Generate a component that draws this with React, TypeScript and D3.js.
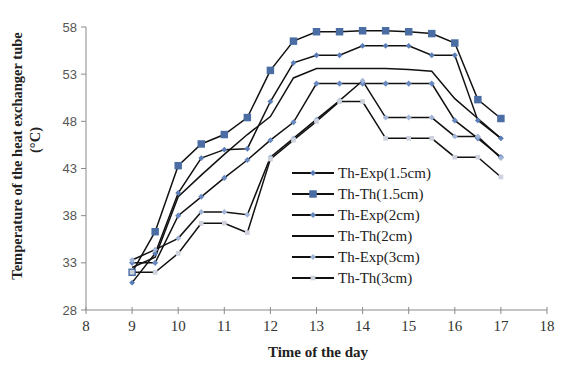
import React from "react";
import * as d3 from "d3";

const width = 561;
const height = 365;

const hours = [9, 9.5, 10, 10.5, 11, 11.5, 12, 12.5, 13, 13.5, 14, 14.5, 15, 15.5, 16, 16.5, 17];

const thExp15 = [30.9, 34.0, 40.4, 44.1, 45.0, 45.1, 50.1, 54.2, 55.0, 55.0, 56.0, 56.0, 56.0, 55.0, 55.0, 48.1, 46.2];
const thTh15 = [32.0, 36.3, 43.3, 45.6, 46.6, 48.4, 53.4, 56.5, 57.5, 57.5, 57.6, 57.6, 57.5, 57.3, 56.3, 50.3, 48.3];
const thExp2 = [33.0, 33.0, 38.0, 40.0, 42.0, 43.9, 46.0, 47.9, 52.0, 52.0, 52.0, 52.0, 52.0, 52.0, 48.1, 46.2, 44.2];
const thTh2 = [32.5, 33.6, 40.0, 42.3, 44.5, 46.6, 48.5, 52.6, 53.6, 53.6, 53.6, 53.6, 53.5, 53.3, 50.4, 48.3, 46.2];
const thExp3 = [33.3, 34.4, 35.6, 38.4, 38.4, 38.1, 44.2, 46.2, 48.2, 50.2, 52.3, 48.4, 48.4, 48.4, 46.4, 46.4, 44.1];
const thTh3 = [32.0, 32.0, 34.0, 37.2, 37.2, 36.2, 44.0, 46.0, 48.0, 50.1, 50.1, 46.2, 46.2, 46.2, 44.2, 44.2, 42.1];

const xTicks = [8, 9, 10, 11, 12, 13, 14, 15, 16, 17, 18];
const yTicks = [28, 33, 38, 43, 48, 53, 58];

const series = [
  { name: "Th-Exp(1.5cm)", values: thExp15, symbol: d3.symbolDiamond2, size: 22, color: "#5a7db6" },
  { name: "Th-Th(1.5cm)", values: thTh15, symbol: d3.symbolSquare, size: 56, color: "#4a6da4" },
  { name: "Th-Exp(2cm)", values: thExp2, symbol: d3.symbolDiamond2, size: 24, color: "#6889bf" },
  { name: "Th-Th(2cm)", values: thTh2, symbol: null, size: 0, color: "#1a2a4a" },
  { name: "Th-Exp(3cm)", values: thExp3, symbol: d3.symbolDiamond2, size: 22, color: "#a3b6d8" },
  { name: "Th-Th(3cm)", values: thTh3, symbol: d3.symbolSquare, size: 22, color: "#cdd2dd" },
];

export default function App() {
  const x = d3.scaleLinear().domain([8, 18]).range([86, 547]);
  const y = d3.scaleLinear().domain([28, 58]).range([310, 27]);

  const line = d3
    .line<number>()
    .x((_, i) => x(hours[i]))
    .y((d) => y(d));

  return (
    <svg
      width={width}
      height={height}
      style={{ position: "absolute", left: 0, top: 0, background: "#fff" }}
    >
      {/* axes */}
      <line x1={x(8)} x2={x(8)} y1={y(28)} y2={y(58)} stroke="#8a8a8a" />
      <line x1={x(8)} x2={x(18)} y1={y(28)} y2={y(28)} stroke="#8a8a8a" />
      {yTicks.map((t) => (
        <g key={t}>
          <line x1={x(8) - 5} x2={x(8)} y1={y(t)} y2={y(t)} stroke="#8a8a8a" />
          <text
            x={x(8) - 9}
            y={y(t)}
            dy="0.35em"
            textAnchor="end"
            fontFamily="Liberation Sans, Arial, sans-serif"
            fontSize={13}
            fill="#555"
          >
            {t}
          </text>
        </g>
      ))}
      {xTicks.map((t) => (
        <g key={t}>
          <line x1={x(t)} x2={x(t)} y1={y(28) - 3} y2={y(28) + 4} stroke="#8a8a8a" />
          <text
            x={x(t)}
            y={y(28) + 21}
            textAnchor="middle"
            fontFamily="Liberation Serif, Times New Roman, serif"
            fontSize={15}
            fill="#333"
          >
            {t}
          </text>
        </g>
      ))}

      {/* series */}
      {series.map((s) => (
        <path key={s.name} d={line(s.values) || ""} fill="none" stroke="#111" strokeWidth={1.5} />
      ))}
      {series.map((s) =>
        s.symbol
          ? s.values.map((v, i) => (
              <path
                key={s.name + i}
                transform={`translate(${x(hours[i])},${y(v)})`}
                d={d3.symbol(s.symbol, s.size)() || ""}
                fill={s.color}
              />
            ))
          : null
      )}

      {/* legend */}
      {series.map((s, i) => {
        const ly = 173 + i * 21;
        return (
          <g key={"lg" + s.name}>
            <line x1={292} x2={334} y1={ly} y2={ly} stroke="#111" strokeWidth={2} />
            {s.symbol && (
              <path
                transform={`translate(313,${ly})`}
                d={d3.symbol(s.symbol, s.size)() || ""}
                fill={s.color}
              />
            )}
            <text
              x={338}
              y={ly}
              dy="0.35em"
              fontFamily="Liberation Serif, Times New Roman, serif"
              fontSize={15}
              fill="#222"
            >
              {s.name}
            </text>
          </g>
        );
      })}

      {/* titles */}
      <text
        transform="translate(22,156) rotate(-90)"
        textAnchor="middle"
        fontFamily="Liberation Serif, Times New Roman, serif"
        fontWeight="bold"
        fontSize={14.5}
        fill="#222"
      >
        Temperature of the heat exchanger tube
      </text>
      <text
        transform="translate(40,140) rotate(-90)"
        textAnchor="middle"
        fontFamily="Liberation Serif, Times New Roman, serif"
        fontWeight="bold"
        fontSize={14.5}
        fill="#222"
      >
        (°C)
      </text>
      <text
        x={318}
        y={357}
        textAnchor="middle"
        fontFamily="Liberation Serif, Times New Roman, serif"
        fontWeight="bold"
        fontSize={15}
        fill="#222"
      >
        Time of the day
      </text>
    </svg>
  );
}
